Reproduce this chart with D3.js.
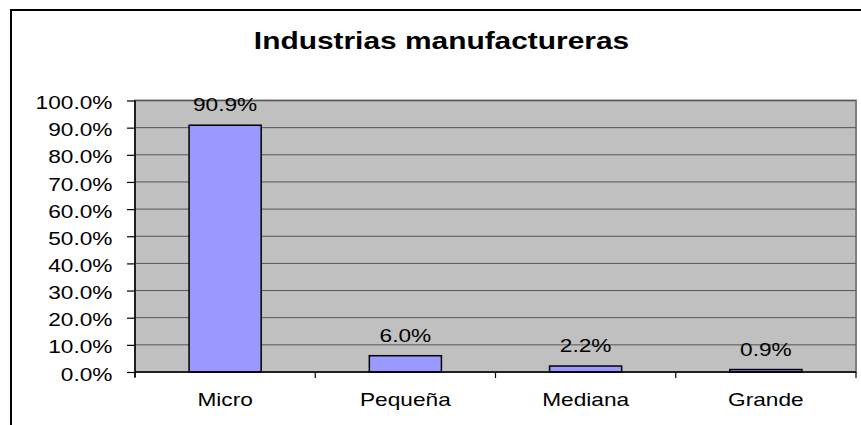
<!DOCTYPE html>
<html lang="es">
<head>
<meta charset="utf-8">
<title>Industrias manufactureras</title>
<script src="https://cdn.jsdelivr.net/npm/d3@7"></script>
<style>
  body { margin: 0; background: #fff; }
  svg text { font-family: Arial, "Liberation Sans", sans-serif; fill: #000; }
</style>
</head>
<body>
<svg id="chart" width="861" height="425"></svg>
<script>
// datos
const categories = ["Micro", "Pequeña", "Mediana", "Grande"];
const shares = [0.909, 0.060, 0.022, 0.009];
const yTicks = [0, 0.1, 0.2, 0.3, 0.4, 0.5, 0.6, 0.7, 0.8, 0.9, 1.0];

const sx = 1.26; // the original text is stretched horizontally
const plot = { left: 135, right: 856, top: 100.5, bottom: 372 };

const svg = d3.select("#chart");

// outer frame, runs off the right and bottom edges
svg.append("rect")
  .attr("x", 11).attr("y", 10)
  .attr("width", 900).attr("height", 500)
  .attr("fill", "none").attr("stroke", "#000").attr("stroke-width", 2);

svg.append("text")
  .attr("transform", "translate(441.5,49) scale(1.3,1)")
  .attr("text-anchor", "middle")
  .style("font-size", "23px").style("font-weight", "bold")
  .text("Industrias manufactureras");

const x = d3.scaleBand()
  .domain(categories)
  .range([plot.left, plot.right])
  .paddingInner(0.6).paddingOuter(0.3);

const y = d3.scaleLinear().domain([0, 1]).range([plot.bottom, plot.top]);

// plot area
svg.append("rect")
  .attr("x", plot.left).attr("y", plot.top)
  .attr("width", plot.right - plot.left).attr("height", plot.bottom - plot.top)
  .attr("fill", "#c0c0c0").attr("stroke", "#808080").attr("stroke-width", 2);

// gridlines
svg.append("g").selectAll("line")
  .data(yTicks.slice(1))
  .join("line")
  .attr("x1", plot.left).attr("x2", plot.right)
  .attr("y1", d => y(d)).attr("y2", d => y(d))
  .attr("stroke", "#555").attr("stroke-width", 1);

// bars
svg.append("g").selectAll("rect")
  .data(categories)
  .join("rect")
  .attr("x", d => x(d))
  .attr("width", x.bandwidth())
  .attr("y", (d, i) => y(shares[i]))
  .attr("height", (d, i) => y(0) - y(shares[i]))
  .attr("fill", "#9999ff").attr("stroke", "#000").attr("stroke-width", 1.5);

// value labels
svg.append("g").selectAll("text")
  .data(categories)
  .join("text")
  .attr("transform", (d, i) =>
    `translate(${x(d) + x.bandwidth() / 2},${y(shares[i]) - 14}) scale(${sx},1)`)
  .attr("text-anchor", "middle")
  .style("font-size", "18px")
  .text((d, i) => d3.format(".1%")(shares[i]));

// y axis
const yAxis = svg.append("g")
  .attr("transform", `translate(${plot.left},0)`)
  .call(d3.axisLeft(y).tickValues(yTicks).tickFormat(d3.format(".1%")).tickSize(8).tickSizeOuter(0));
yAxis.select(".domain").attr("stroke", "#000").attr("stroke-width", 1.5)
  .attr("d", `M0,${plot.top}V${plot.bottom + 5}`);
yAxis.selectAll(".tick line").attr("stroke", "#000").attr("stroke-width", 1.2);
yAxis.selectAll(".tick text")
  .attr("x", -22.5 / sx).attr("dy", "0.45em")
  .attr("transform", `scale(${sx},1)`)
  .style("font-size", "18px").attr("font-family", null);

// x axis
const xAxis = svg.append("g")
  .attr("transform", `translate(0,${plot.bottom})`)
  .call(d3.axisBottom(x).tickSize(0).tickPadding(0));
xAxis.select(".domain").attr("stroke", "#000").attr("stroke-width", 1.5)
  .attr("d", `M${plot.left},0H${plot.right}`);
xAxis.selectAll(".tick text")
  .attr("y", 0).attr("dy", null)
  .attr("transform", `translate(0,34) scale(${sx},1)`)
  .style("font-size", "18px").attr("font-family", null);

const step = x.step();
const bounds = categories.map(c => x(c) - step * x.paddingOuter()).concat([plot.right]);
xAxis.append("g").selectAll("line")
  .data(bounds)
  .join("line")
  .attr("x1", d => d).attr("x2", d => d)
  .attr("y1", 0).attr("y2", 6)
  .attr("stroke", "#000").attr("stroke-width", 1.2);
</script>
</body>
</html>
